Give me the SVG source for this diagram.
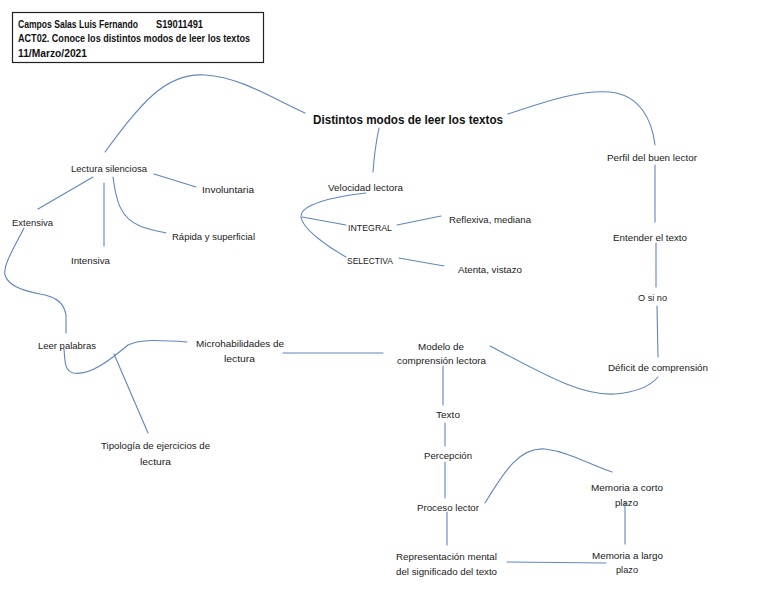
<svg xmlns="http://www.w3.org/2000/svg" width="768" height="594" viewBox="0 0 768 594">
<style>
.t{font-family:"Liberation Sans",Arial,sans-serif;font-size:9px;fill:#1a1a1a}
.h{font-family:"Liberation Sans",Arial,sans-serif;font-size:10px;font-weight:bold;fill:#111}
.ti{font-family:"Liberation Sans",Arial,sans-serif;font-size:13px;font-weight:bold;fill:#111}
.c{fill:none;stroke:#5f86c0;stroke-width:1.1;stroke-linecap:round}
</style>
<rect width="768" height="594" fill="#fff"/>
<g id="header">
<rect x="12.5" y="12.5" width="251" height="50" fill="#fff" stroke="#222" stroke-width="1.2"/>
<text class="h" x="18" y="27.5" textLength="120" lengthAdjust="spacingAndGlyphs">Campos Salas Luis Fernando</text>
<text class="h" x="156" y="27.5" textLength="47" lengthAdjust="spacingAndGlyphs">S19011491</text>
<text class="h" x="18" y="42" textLength="232" lengthAdjust="spacingAndGlyphs">ACT02. Conoce los distintos modos de leer los textos</text>
<text class="h" x="18" y="57" textLength="69" lengthAdjust="spacingAndGlyphs">11/Marzo/2021</text>
</g>
<g id="connectors">
<path class="c" d="M105,152 C140,105 165,72 205,75 C240,77 272,98 305,113"/>
<path class="c" d="M379,128 C376,142 374,158 373,172"/>
<path class="c" d="M508,114 C550,100 580,90 610,92 C640,95 652,120 655,145"/>
<path class="c" d="M655,165 L655,222"/>
<path class="c" d="M656,243 L656,287"/>
<path class="c" d="M657,306 L658,357"/>
<path class="c" d="M490,346 C540,372 580,396 615,394 C640,392 652,384 658,377"/>
<path class="c" d="M283,353 L383,353"/>
<path class="c" d="M24,228 C14,248 3,265 5,275 C8,285 20,290 40,294 C58,297 64,304 66,315 L66,333"/>
<path class="c" d="M64,349 C65,360 64,370 73,373 C90,376 110,360 128,345 C140,339 160,340 187,342"/>
<path class="c" d="M114,354 L148,433"/>
<path class="c" d="M93,177 L38,209"/>
<path class="c" d="M104,183 L104,246"/>
<path class="c" d="M113,177 C116,200 120,218 140,226 C150,230 158,231 166,233"/>
<path class="c" d="M154,174 L196,187"/>
<path class="c" d="M366,193 C330,197 300,205 301,217 C303,230 330,248 346,257"/>
<path class="c" d="M302,217 L346,225"/>
<path class="c" d="M397,225 L441,216"/>
<path class="c" d="M399,258 L444,266"/>
<path class="c" d="M443,366 L443,405"/>
<path class="c" d="M445,423 L445,446"/>
<path class="c" d="M445,462 L445,498"/>
<path class="c" d="M447,512 L447,545"/>
<path class="c" d="M485,503 C505,470 520,447 545,449 C570,452 590,465 612,472"/>
<path class="c" d="M625,502 L625,544"/>
<path class="c" d="M507,562 L606,563"/>
</g>
<g id="title"><text class="ti" x="313" y="123.5" textLength="190" lengthAdjust="spacingAndGlyphs">Distintos modos de leer los textos</text></g>
<g id="lectura-silenciosa"><text class="t" x="71" y="172" textLength="76" lengthAdjust="spacingAndGlyphs">Lectura silenciosa</text></g>
<g id="involuntaria"><text class="t" x="202" y="193" textLength="52" lengthAdjust="spacingAndGlyphs">Involuntaria</text></g>
<g id="extensiva"><text class="t" x="12" y="226" textLength="41" lengthAdjust="spacingAndGlyphs">Extensiva</text></g>
<g id="rapida"><text class="t" x="172" y="240" textLength="83" lengthAdjust="spacingAndGlyphs">Rápida y superficial</text></g>
<g id="intensiva"><text class="t" x="71" y="264" textLength="39" lengthAdjust="spacingAndGlyphs">Intensiva</text></g>
<g id="velocidad"><text class="t" x="328" y="191" textLength="75" lengthAdjust="spacingAndGlyphs">Velocidad lectora</text></g>
<g id="integral"><text class="t" x="348" y="231" textLength="44" lengthAdjust="spacingAndGlyphs">INTEGRAL</text></g>
<g id="reflexiva"><text class="t" x="449" y="223" textLength="82" lengthAdjust="spacingAndGlyphs">Reflexiva, mediana</text></g>
<g id="selectiva"><text class="t" x="347" y="264" textLength="46" lengthAdjust="spacingAndGlyphs">SELECTIVA</text></g>
<g id="atenta"><text class="t" x="458" y="273" textLength="64" lengthAdjust="spacingAndGlyphs">Atenta, vistazo</text></g>
<g id="perfil"><text class="t" x="607" y="161" textLength="90" lengthAdjust="spacingAndGlyphs">Perfil del buen lector</text></g>
<g id="entender"><text class="t" x="613" y="241" textLength="74" lengthAdjust="spacingAndGlyphs">Entender el texto</text></g>
<g id="osino"><text class="t" x="638" y="301" textLength="29" lengthAdjust="spacingAndGlyphs">O si no</text></g>
<g id="modelo">
<text class="t" x="418" y="350" textLength="46" lengthAdjust="spacingAndGlyphs">Modelo de</text>
<text class="t" x="397" y="364" textLength="89" lengthAdjust="spacingAndGlyphs">comprensión lectora</text>
</g>
<g id="deficit"><text class="t" x="608" y="371" textLength="100" lengthAdjust="spacingAndGlyphs">Déficit de comprensión</text></g>
<g id="texto"><text class="t" x="436" y="418" textLength="24" lengthAdjust="spacingAndGlyphs">Texto</text></g>
<g id="percepcion"><text class="t" x="424" y="459" textLength="48" lengthAdjust="spacingAndGlyphs">Percepción</text></g>
<g id="proceso"><text class="t" x="417" y="511" textLength="62" lengthAdjust="spacingAndGlyphs">Proceso lector</text></g>
<g id="memoria-corto">
<text class="t" x="591" y="491" textLength="72" lengthAdjust="spacingAndGlyphs">Memoria a corto</text>
<text class="t" x="615" y="506" textLength="23" lengthAdjust="spacingAndGlyphs">plazo</text>
</g>
<g id="memoria-largo">
<text class="t" x="592" y="559" textLength="71" lengthAdjust="spacingAndGlyphs">Memoria a largo</text>
<text class="t" x="616" y="573" textLength="22" lengthAdjust="spacingAndGlyphs">plazo</text>
</g>
<g id="representacion">
<text class="t" x="396" y="560" textLength="101" lengthAdjust="spacingAndGlyphs">Representación mental</text>
<text class="t" x="396" y="575" textLength="101" lengthAdjust="spacingAndGlyphs">del significado del texto</text>
</g>
<g id="leer-palabras"><text class="t" x="38" y="349" textLength="58" lengthAdjust="spacingAndGlyphs">Leer palabras</text></g>
<g id="microhabilidades">
<text class="t" x="196" y="347" textLength="88" lengthAdjust="spacingAndGlyphs">Microhabilidades de</text>
<text class="t" x="224" y="362" textLength="31" lengthAdjust="spacingAndGlyphs">lectura</text>
</g>
<g id="tipologia">
<text class="t" x="101" y="449" textLength="109" lengthAdjust="spacingAndGlyphs">Tipología de ejercicios de</text>
<text class="t" x="140" y="465" textLength="31" lengthAdjust="spacingAndGlyphs">lectura</text>
</g>
</svg>
